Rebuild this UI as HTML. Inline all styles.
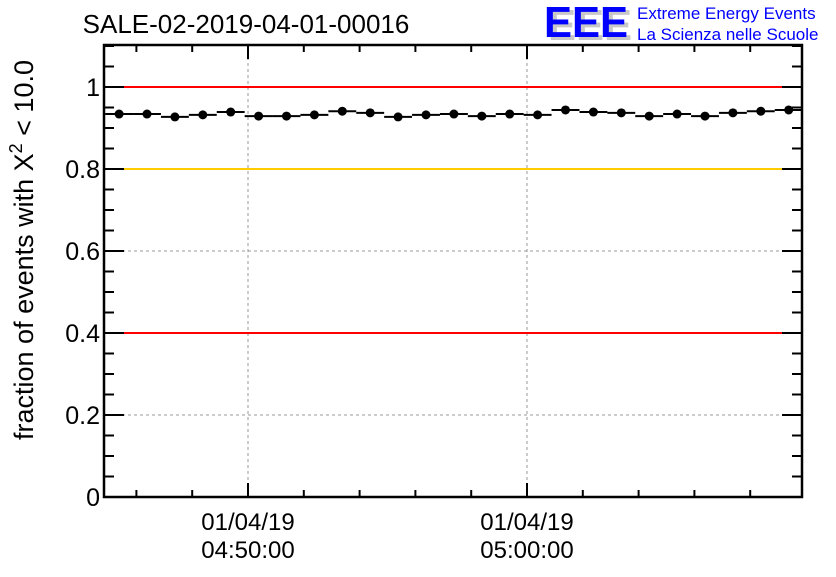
<!DOCTYPE html>
<html><head><meta charset="utf-8"><style>
body{margin:0;background:#fff;width:836px;height:572px;overflow:hidden;font-family:"Liberation Sans",Arial,sans-serif}
</style></head><body>
<svg id="c" width="836" height="572" viewBox="0 0 836 572" xmlns="http://www.w3.org/2000/svg" font-family="Liberation Sans, Arial, sans-serif">
<text x="246" y="33" font-size="26" text-anchor="middle">SALE-02-2019-04-01-00016</text>
<g>
<text x="548" y="40" font-size="44" font-weight="bold" fill="#c8c8c8" textLength="84" lengthAdjust="spacingAndGlyphs">EEE</text>
<text x="544" y="37" font-size="44" font-weight="bold" fill="#0000ff" textLength="84" lengthAdjust="spacingAndGlyphs">EEE</text>
<text x="637" y="19" font-size="17" fill="#0000ff">Extreme Energy Events</text>
<text x="637" y="40" font-size="17" fill="#0000ff">La Scienza nelle Scuole</text>
</g>
<text transform="translate(33,250) rotate(-90)" font-size="27" text-anchor="middle">fraction of events with X<tspan dy="-11" font-size="18">2</tspan><tspan dy="11"> &lt; 10.0</tspan></text>
<g id="plot"></g>
</svg>
<script>
const times = [-4.62,-3.62,-2.62,-1.62,-0.62,0.38,1.38,2.38,3.38,4.38,5.38,6.38,7.38,8.38,9.38,10.38,11.38,12.38,13.38,14.38,15.38,16.38,17.38,18.38,19.38];
const values = [0.934,0.934,0.927,0.932,0.939,0.929,0.929,0.932,0.941,0.937,0.927,0.932,0.934,0.929,0.934,0.932,0.944,0.939,0.937,0.929,0.934,0.929,0.937,0.941,0.944];
const yTicks = [0,0.2,0.4,0.6,0.8,1];
const yTickLabels = ["0","0.2","0.4","0.6","0.8","1"];
const xMajor = [0,10];
const xMajorDates = ["01/04/19","01/04/19"];
const xMajorTimes = ["04:50:00","05:00:00"];
const refLines = [{v:1,c:"#ff0000"},{v:0.8,c:"#ffcc00"},{v:0.4,c:"#ff0000"}];
const gridLines = [0.2,0.6];

const X0=104,X1=802,Y0=497,Y1=45;
const xs=t=>248+t*27.9;
const ys=v=>Y0-v*410;
const NS="http://www.w3.org/2000/svg";
const g=document.getElementById('plot');
function mk(tag,at,name){const e=document.createElementNS(NS,tag);for(const k in at)e.setAttribute(k,at[k]);


g.appendChild(e);return e;}
gridLines.forEach(v=>mk('line',{x1:X0,x2:X1,y1:ys(v),y2:ys(v),stroke:'#999','stroke-dasharray':'3,3'},'y-gridline'));
xMajor.forEach(t=>mk('line',{x1:xs(t),x2:xs(t),y1:Y1,y2:Y0,stroke:'#999','stroke-dasharray':'3,3'},'x-gridline'));
refLines.forEach(r=>mk('line',{x1:X0,x2:X1,y1:ys(r.v),y2:ys(r.v),stroke:r.c,'stroke-width':2},'reference-line'));
for(let i=0;i<=22;i++){const v=i*0.05,y=ys(v),maj=i%4===0;const L=maj?20:10;
mk('line',{x1:X0,x2:X0+L,y1:y,y2:y,stroke:'#000','stroke-width':2},'y-tick');
mk('line',{x1:X1-L,x2:X1,y1:y,y2:y,stroke:'#000','stroke-width':2},'y-tick-right');}
yTicks.forEach((v,i)=>{const t=mk('text',{x:X0-4,y:ys(v)+9,'font-size':25,'text-anchor':'end'},'y-tick-label');t.textContent=yTickLabels[i];});
for(let m=-4;m<=18;m+=2){const x=xs(m),maj=m%10===0;const L=maj?14:7;
mk('line',{x1:x,x2:x,y1:Y0,y2:Y0-L,stroke:'#000','stroke-width':2},'x-tick');
mk('line',{x1:x,x2:x,y1:Y1,y2:Y1+L,stroke:'#000','stroke-width':2},'x-tick-top');}
xMajor.forEach((t,i)=>{let e=mk('text',{x:xs(t),y:530,'font-size':24,'text-anchor':'middle'},'x-tick-label-date');e.textContent=xMajorDates[i];
e=mk('text',{x:xs(t),y:558,'font-size':24,'text-anchor':'middle'},'x-tick-label-time');e.textContent=xMajorTimes[i];});
mk('rect',{x:X0,y:Y1,width:X1-X0,height:Y0-Y1,fill:'none',stroke:'#000','stroke-width':2.5},'plot-frame');
times.forEach((t,i)=>{const y=ys(values[i]);
mk('line',{x1:xs(t-0.5),x2:xs(t+0.5),y1:y,y2:y,stroke:'#000','stroke-width':2},'error-bar');
mk('circle',{cx:xs(t),cy:y,r:4.5,fill:'#000'},'data-point');});
</script>
</body></html>
